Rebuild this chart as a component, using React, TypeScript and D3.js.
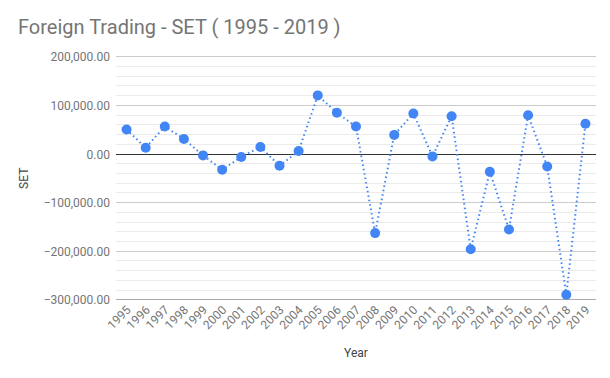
import React from "react";
import * as d3 from "d3";

const years = ["1995","1996","1997","1998","1999","2000","2001","2002","2003","2004","2005","2006","2007","2008","2009","2010","2011","2012","2013","2014","2015","2016","2017","2018","2019"];
const values = [50300, 13000, 56500, 31000, -2900, -32500, -6200, 14500, -24200, 6200, 120600, 84800, 56500, -162800, 39300, 83400, -4900, 77800, -195900, -36600, -155200, 79900, -25600, -289700, 62100];
const majorTicks = [200000, 100000, 0, -100000, -200000, -300000];
const title = "Foreign Trading - SET ( 1995 - 2019 )";

export default function App() {
  const W = 610, H = 378;
  const left = 116, right = 596, top = 56.8, bottom = 299.8;
  const x = d3.scaleBand<string>().domain(years).range([left + 1, right - 1]);
  const y = d3.scaleLinear().domain([-300000, 200000]).range([bottom, top]);
  const minor = d3.range(-300000, 200001, 20000);
  const fmt = d3.format(",.2f");
  const py = (v: number) => Math.floor(y(v)) + 0.5;
  const line = d3.line<number>()
    .x((_, i) => (x(years[i]) as number) + x.bandwidth() / 2)
    .y((d) => y(d));
  const font = "Roboto, 'Noto Sans', sans-serif";
  return (
    <svg width={W} height={H} style={{ position: "absolute", left: 0, top: 0 }}>
      <rect width={W} height={H} fill="#fff" />
      <text x={18} y={34} fontFamily={font} fontSize={20} fill="#757575">{title}</text>
      {minor.map((v) => (
        <line key={"m" + v} x1={left} x2={right} y1={py(v)} y2={py(v)}
          stroke={v % 100000 === 0 ? "#cccccc" : "#ebebeb"} strokeWidth={1} />
      ))}
      <line x1={left} x2={right} y1={py(0)} y2={py(0)} stroke="#333" strokeWidth={1} />
      <line x1={left} x2={right} y1={py(-300000)} y2={py(-300000)} stroke="#aaa" strokeWidth={1} />
      {majorTicks.map((v) => (
        <text key={"t" + v} x={110} y={py(v) + 4} textAnchor="end" fontFamily={font} fontSize={12} fill="#757575">{fmt(v)}</text>
      ))}
      <text transform={`translate(28,${(top + bottom) / 2}) rotate(-90)`} textAnchor="middle" fontFamily={font} fontSize={12} fill="#444">SET</text>
      {years.map((yr) => {
        const cx = (x(yr) as number) + x.bandwidth() / 2;
        return (
          <text key={yr} transform={`translate(${cx + 5},${bottom + 11}) rotate(-45)`} textAnchor="end" fontFamily={font} fontSize={12} fill="#757575">{yr}</text>
        );
      })}
      <text x={356} y={357} textAnchor="middle" fontFamily={font} fontSize={12} fill="#444">Year</text>
      <path d={line(values) || ""} fill="none" stroke="#4285f4" strokeWidth={2} strokeDasharray="1.5,3" />
      {values.map((v, i) => (
        <circle key={i} cx={(x(years[i]) as number) + x.bandwidth() / 2} cy={y(v)} r={5} fill="#4285f4" />
      ))}
    </svg>
  );
}
